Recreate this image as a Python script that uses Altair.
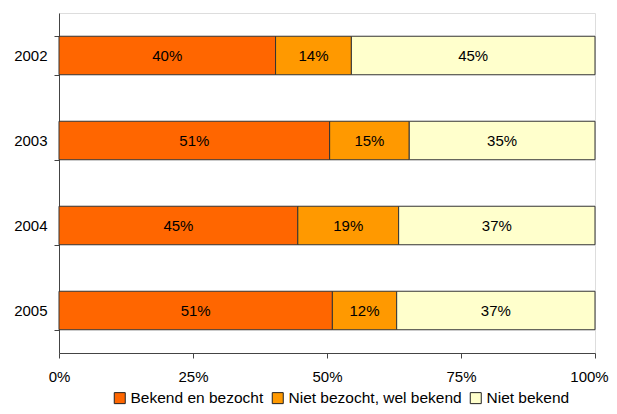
import altair as alt
import pandas as pd

years = ["2002", "2003", "2004", "2005"]
categories = ["Bekend en bezocht", "Niet bezocht, wel bekend", "Niet bekend"]
bekend_bezocht = [40, 51, 45, 51]
niet_bezocht_wel_bekend = [14, 15, 19, 12]
niet_bekend = [45, 35, 37, 37]
colors = ["#FF6600", "#FF9900", "#FFFFCC"]

rows = []
for i, y in enumerate(years):
    for j, (cat, vals) in enumerate(zip(categories, [bekend_bezocht, niet_bezocht_wel_bekend, niet_bekend])):
        rows.append({"year": y, "category": cat, "value": vals[i], "order": j})
df = pd.DataFrame(rows)

FONT = "Liberation Sans"
FS = 15

base = (
    alt.Chart(df)
    .transform_joinaggregate(total="sum(value)", groupby=["year"])
    .transform_calculate(frac="datum.value / datum.total")
    .transform_stack(stack="frac", groupby=["year"], sort=[alt.SortField("order")], as_=["x0", "x1"])
    .transform_calculate(mid="(datum.x0 + datum.x1) / 2", label="datum.value + '%'")
)

yenc = alt.Y(
    "year:N",
    title=None,
    sort=years,
    scale=alt.Scale(paddingInner=0.547, paddingOuter=0.2735),
    axis=alt.Axis(
        tickBand="extent",
        tickSize=5,
        tickColor="#444444",
        domainColor="#444444",
        labelPadding=7,
        labelFont=FONT,
        labelFontSize=FS,
        labelColor="#000000",
    ),
)

bars = base.mark_bar(stroke="#333333", strokeWidth=1).encode(
    x=alt.X(
        "x0:Q",
        title=None,
        scale=alt.Scale(domain=[0, 1], nice=False),
        axis=alt.Axis(
            values=[0, 0.25, 0.5, 0.75, 1],
            format=".0%",
            grid=False,
            tickSize=5,
            tickColor="#444444",
            domainColor="#444444",
            labelFlush=False,
            labelOffset={"condition": {"test": "datum.value == 1", "value": -6}, "value": 0},
            labelPadding=11,
            labelFont=FONT,
            labelFontSize=FS,
            labelColor="#000000",
        ),
    ),
    x2="x1:Q",
    y=yenc,
    color=alt.Color(
        "category:N",
        sort=categories,
        scale=alt.Scale(domain=categories, range=colors),
        legend=alt.Legend(
            title=None,
            orient="none",
            direction="horizontal",
            legendX=53,
            legendY=377,
            symbolType="square",
            symbolSize=121,
            symbolStrokeColor="#222222",
            symbolStrokeWidth=1,
            symbolOpacity=1,
            labelFont=FONT,
            labelFontSize=15.5,
            labelColor="#000000",
            labelLimit=400,
            labelOffset=3,
            columnPadding=6,
            padding=0,
        ),
    ),
    order=alt.Order("order:Q"),
)

text = base.mark_text(font=FONT, fontSize=FS, color="#000000").encode(
    x=alt.X("mid:Q"),
    y=alt.Y("year:N", sort=years),
    text="label:N",
)

chart = (
    alt.layer(bars, text)
    .properties(
        width=536,
        height=340,
        autosize=alt.AutoSizeParams(type="none"),
        padding={"left": 51, "top": 5, "right": 14, "bottom": 53},
    )
    .configure_view(stroke="#666666", strokeWidth=1)
    .configure(background="#ffffff")
)

chart.save("out.html", embed_options={"renderer": "svg", "actions": False})
